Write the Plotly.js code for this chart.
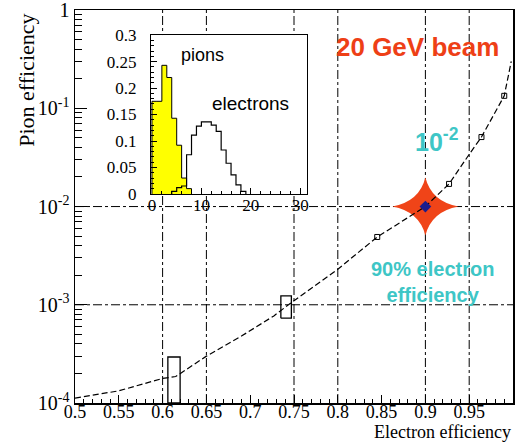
<!DOCTYPE html>
<html><head><meta charset="utf-8">
<script src="https://cdn.plot.ly/plotly-3.0.1.min.js"></script>
<style>html,body{margin:0;padding:0;background:#fff}#chart{width:515px;height:445px}</style>
</head><body><div id="chart"></div>
<script>
// ---- main rejection curve ----
const electronEff = [0.5, 0.55, 0.6, 0.615, 0.65, 0.69, 0.727, 0.748, 0.8, 0.845, 0.9, 0.927, 0.95, 0.964, 0.99, 0.998];
const pionEff     = [1.12e-4, 1.33e-4, 1.78e-4, 1.86e-4, 3.0e-4, 4.8e-4, 7.7e-4, 1.07e-3, 2.3e-3, 4.9e-3, 1.0e-2, 1.7e-2, 3.4e-2, 5.1e-2, 0.134, 0.3];
// measured points on curve
const pointEffE  = [0.845, 0.927, 0.964, 0.99];
const pointEffPi = [4.9e-3, 1.7e-2, 5.1e-2, 0.134];
// boxes
const boxLowE  = [0.606, 0.735];
const boxHighE = [0.620, 0.747];
const boxLowPi  = [1.0e-4, 7.3e-4];
const boxHighPi = [2.94e-4, 1.23e-3];
// working point
const wpEffE = [0.9];
const wpEffPi = [0.01];
// grid lines
const gridEffE = [0.6, 0.65, 0.75, 0.8, 0.9, 0.95];
const gridEffPi = [1e-3, 1e-2];
// y tick labels
const yTickVals = [1e-4, 1e-3, 1e-2, 1e-1, 1];
const yTickText = ['10<sup>-4</sup>', '10<sup>-3</sup>', '10<sup>-2</sup>', '10<sup>-1</sup>', '1'];

// ---- inset histograms ----
const pionBinLow = [0, 1, 2, 3, 4, 5, 6, 7];
const pionFrac   = [0.175, 0.175, 0.243, 0.22, 0.143, 0.092, 0.03, 0.01];
const elecBinLow = [4, 5, 6, 7, 8, 9, 10, 11, 12, 13, 14, 15, 16, 17, 18];
const elecFrac   = [0.005, 0.012, 0.015, 0.074, 0.111, 0.128, 0.136, 0.136, 0.130, 0.118, 0.083, 0.058, 0.036, 0.017, 0.005];
const binWidth = 1;

function stepXY(lows, vals) {
  const xs = [lows[0]], ys = [0];
  for (let i = 0; i < lows.length; i++) { xs.push(lows[i]); ys.push(vals[i]); }
  xs.push(lows[lows.length - 1] + binWidth); ys.push(0);
  return {xs, ys};
}
const pStep = stepXY(pionBinLow, pionFrac);
const eStep = stepXY(elecBinLow, elecFrac);

const traces = [];
// curve
traces.push({x: electronEff, y: pionEff, mode: 'lines', line: {color: 'black', width: 1.2, dash: '6px,3px'}, hoverinfo: 'skip'});
// points
traces.push({x: pointEffE, y: pointEffPi, mode: 'markers', marker: {symbol: 'square-open', size: 5, color: 'black', line: {width: 1, color: 'black'}}, hoverinfo: 'skip'});
// boxes
for (let i = 0; i < boxLowE.length; i++) {
  traces.push({x: [boxLowE[i], boxHighE[i], boxHighE[i], boxLowE[i], boxLowE[i]],
               y: [boxLowPi[i], boxLowPi[i], boxHighPi[i], boxHighPi[i], boxLowPi[i]],
               mode: 'lines', line: {color: 'black', width: 1.3}, hoverinfo: 'skip'});
}
// star centre
traces.push({x: wpEffE, y: wpEffPi, mode: 'markers', marker: {symbol: 'diamond', size: 9, color: '#1c1c8c', line: {width: 0}}, hoverinfo: 'skip'});
// inset histograms
traces.push({x: pStep.xs, y: pStep.ys, xaxis: 'x2', yaxis: 'y2', mode: 'lines', line: {shape: 'hv', color: 'black', width: 1}, fill: 'tozeroy', fillcolor: '#ffff00', hoverinfo: 'skip'});
traces.push({x: eStep.xs, y: eStep.ys, xaxis: 'x2', yaxis: 'y2', mode: 'lines', line: {shape: 'hv', color: 'black', width: 1.2}, hoverinfo: 'skip'});

const minorY = [];
for (let n = -4; n < 0; n++) for (let k = 2; k <= 9; k++) minorY.push(k * Math.pow(10, n));

const serif = 'Liberation Serif, Times New Roman, serif';
const sans = 'Liberation Sans, Arial, sans-serif';

const shapes = gridEffE.map(v => ({type: 'line', xref: 'x', yref: 'paper', x0: v, x1: v, y0: 0, y1: 1, line: {color: 'black', width: 1, dash: 'dashdot'}, layer: 'below'}));
gridEffPi.forEach(v => shapes.push({type: 'line', xref: 'paper', yref: 'y', x0: 0, x1: 1, y0: v, y1: v, line: {color: 'black', width: 1, dash: 'dashdot'}, layer: 'below'}));
shapes.push({type: 'rect', xref: 'x2 domain', yref: 'y2 domain', x0: 0, x1: 1, y0: 0, y1: 1, fillcolor: 'white', line: {width: 0}, layer: 'below'});
// four-pointed star at the working point
shapes.push({type: 'path', xref: 'x', yref: 'y', xsizemode: 'pixel', ysizemode: 'pixel',
             xanchor: wpEffE[0], yanchor: wpEffPi[0],
             path: 'M-33,0 Q-6,-5 0,-29 Q6,-5 33,0 Q6,5 0,29 Q-6,5 -33,0 Z',
             fillcolor: '#f04418', line: {width: 0}, layer: 'below'});

const layout = {
  width: 515, height: 445,
  margin: {l: 75, r: 2, t: 10, b: 42},
  paper_bgcolor: 'white', plot_bgcolor: 'white',
  showlegend: false,
  xaxis: {range: [0.5, 1.0], tick0: 0.5, dtick: 0.05, ticks: 'inside', ticklen: 8, tickcolor: 'black',
          minor: {dtick: 0.01, ticks: 'inside', ticklen: 4, tickcolor: 'black'},
          showgrid: false, zeroline: false, showline: true, mirror: true, linecolor: 'black', linewidth: 1.5,
          ticklabelstandoff: -8,
          tickfont: {family: serif, size: 18, color: 'black'}},
  yaxis: {type: 'log', range: [-4, 0.001], tickmode: 'array', tickvals: yTickVals, ticktext: yTickText,
          ticks: 'inside', ticklen: 12, tickcolor: 'black', ticklabeloverflow: 'allow',
          minor: {tickmode: 'array', tickvals: minorY, ticks: 'inside', ticklen: 7, tickcolor: 'black'},
          showgrid: false, zeroline: false, showline: true, mirror: true, linecolor: 'black', linewidth: 1.5,
          tickfont: {family: serif, size: 20, color: 'black'}},
  xaxis2: {domain: [0.1735, 0.53], anchor: 'y2', range: [-0.2, 31.4], tickvals: [0, 10, 20, 30],
           ticks: 'inside', ticklen: 6, tickcolor: 'black',
           minor: {dtick: 2, ticks: 'inside', ticklen: 3, tickcolor: 'black'},
           showgrid: false, zeroline: false, showline: true, mirror: true, linecolor: 'black', linewidth: 1.2,
           ticklabelstandoff: -5,
           tickfont: {family: serif, size: 17, color: 'black'}},
  yaxis2: {domain: [0.532, 0.936], anchor: 'x2', range: [0, 0.3], dtick: 0.05,
           ticks: 'inside', ticklen: 6, tickcolor: 'black',
           minor: {dtick: 0.01, ticks: 'inside', ticklen: 3, tickcolor: 'black'},
           showgrid: false, zeroline: false, showline: true, mirror: true, linecolor: 'black', linewidth: 1.2,
           ticklabelstandoff: 10,
           tickfont: {family: serif, size: 17, color: 'black'}},
  shapes: shapes,
  annotations: [
    {text: 'Electron efficiency', xref: 'paper', yref: 'paper', x: 1.0, y: -0.1035, xanchor: 'right', yanchor: 'bottom', showarrow: false, font: {family: serif, size: 18, color: 'black'}},
    {text: 'Pion efficiency', xref: 'paper', yref: 'paper', x: -0.11, y: 0.822, textangle: -90, xanchor: 'center', yanchor: 'middle', showarrow: false, font: {family: serif, size: 22, color: 'black'}},
    {text: '<b>20 GeV beam</b>', xref: 'paper', yref: 'paper', x: 0.783, y: 0.907, xanchor: 'center', yanchor: 'middle', showarrow: false, font: {family: sans, size: 26, color: '#ee3f16'}},
    {text: '<b>10<sup>-2</sup></b>', xref: 'paper', yref: 'paper', x: 0.826, y: 0.67, xanchor: 'center', yanchor: 'middle', showarrow: false, font: {family: sans, size: 25, color: '#3ec6c6'}},
    {text: '<b>90% electron<br>efficiency</b>', xref: 'paper', yref: 'paper', x: 0.817, y: 0.308, xanchor: 'center', yanchor: 'middle', showarrow: false, font: {family: sans, size: 20, color: '#3ec6c6'}},
    {text: 'pions', xref: 'paper', yref: 'paper', x: 0.292, y: 0.885, xanchor: 'center', yanchor: 'middle', showarrow: false, font: {family: sans, size: 18, color: 'black'}},
    {text: 'electrons', xref: 'paper', yref: 'paper', x: 0.40, y: 0.763, xanchor: 'center', yanchor: 'middle', showarrow: false, font: {family: sans, size: 19, color: 'black'}}
  ]
};
Plotly.newPlot('chart', traces, layout, {staticPlot: true, displayModeBar: false});
</script>
</body></html>
